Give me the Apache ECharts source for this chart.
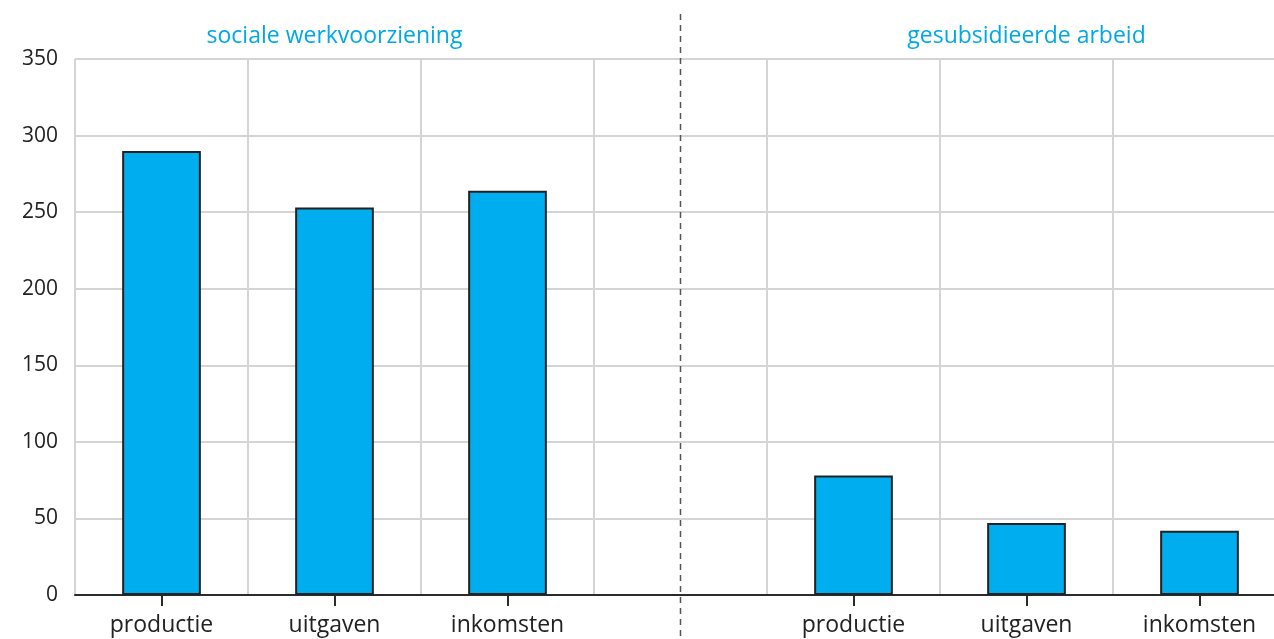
<!DOCTYPE html>
<html><head><meta charset="utf-8">
<script src="https://cdn.jsdelivr.net/npm/echarts@6/dist/echarts.min.js"></script>
<style>html,body{margin:0;padding:0;background:#fff;overflow:hidden}#c{width:1274px;height:639px}</style>
</head><body><div id="c"></div>
<script>
const categories = ['productie','uitgaven','inkomsten','','productie','uitgaven','inkomsten'];
const values = [290, 253, 264, null, 78, 47, 42];
const groupTitles = ['sociale werkvoorziening','gesubsidieerde arbeid'];
const yTicks = {min:0, max:350, interval:50};

const chart = echarts.init(document.getElementById('c'));
const font = 'Open Sans';
chart.setOption({
  animation:false,
  grid:{left:75, width:1211, top:59, bottom:44, outerBoundsMode:'none', containLabel:false},
  xAxis:{
    type:'category', data:categories, boundaryGap:true,
    axisLine:{lineStyle:{color:'#2b2b2b', width:2}},
    axisTick:{show:true, alignWithLabel:true, length:11, lineStyle:{color:'#2b2b2b', width:2},
      interval:(i)=>categories[i]!==''},
    axisLabel:{color:'#222', fontSize:23, fontFamily:font, margin:19, interval:0},
    splitLine:{show:true, lineStyle:{color:'#d5d5d5', width:2}}
  },
  yAxis:{
    type:'value', min:yTicks.min, max:yTicks.max, interval:yTicks.interval,
    axisLine:{show:false}, axisTick:{show:false},
    axisLabel:{color:'#222', fontSize:21, fontFamily:font, margin:17},
    splitLine:{lineStyle:{color:'#d5d5d5', width:2}}
  },
  series:[{
    type:'bar', data:values, barWidth:'45.5%',
    itemStyle:{color:'#00adef', borderColor:'#222', borderWidth:2}
  }]
});
const x = i => chart.convertToPixel({xAxisIndex:0}, i);
const midL = (x(0)+x(2))/2, midR = (x(4)+x(6))/2, div = x(3);
chart.setOption({
  graphic:[
    {type:'line', shape:{x1:div, y1:14, x2:div, y2:636}, style:{stroke:'#555', lineWidth:1.5, lineDash:[6,5]}, z:10},
    {type:'text', x:midL, y:36, style:{text:groupTitles[0], fill:'#00a8e6', font:'23px "'+font+'"', textAlign:'center', textVerticalAlign:'middle'}},
    {type:'text', x:midR, y:36, style:{text:groupTitles[1], fill:'#00a8e6', font:'23px "'+font+'"', textAlign:'center', textVerticalAlign:'middle'}}
  ]
});
</script></body></html>
